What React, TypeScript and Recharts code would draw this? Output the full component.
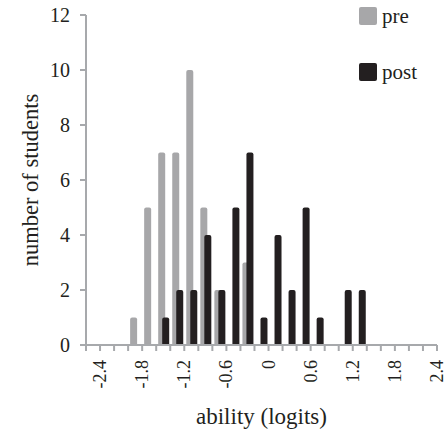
import { Bar, BarChart, XAxis, YAxis, Legend, Label } from "recharts"

// bins are 0.2 logits wide, labelled by their centre
const binCenters = [
  -2.5, -2.3, -2.1, -1.9, -1.7, -1.5, -1.3, -1.1, -0.9, -0.7, -0.5, -0.3, -0.1,
  0.1, 0.3, 0.5, 0.7, 0.9, 1.1, 1.3, 1.5, 1.7, 1.9, 2.1, 2.3,
]
const preCounts = [0, 0, 0, 1, 5, 7, 7, 10, 5, 2, 0, 3, 0, 0, 0, 0, 0, 0, 0, 0, 0, 0, 0, 0, 0]
const postCounts = [0, 0, 0, 0, 0, 1, 2, 2, 4, 2, 5, 7, 1, 4, 2, 5, 1, 0, 2, 2, 0, 0, 0, 0, 0]

const xTicks = [
  -2.6, -2.4, -2.2, -2.0, -1.8, -1.6, -1.4, -1.2, -1.0, -0.8, -0.6, -0.4, -0.2,
  0, 0.2, 0.4, 0.6, 0.8, 1.0, 1.2, 1.4, 1.6, 1.8, 2.0, 2.2, 2.4,
]
const xLabels = ["-2.4", "-1.8", "-1.2", "-0.6", "0", "0.6", "1.2", "1.8", "2.4"]
const yTicks = [0, 2, 4, 6, 8, 10, 12]

const PRE = "#a7a7a9"
const POST = "#231f20"
const AXIS = "#a7a9ac"
const TEXT = "#231f20"
const FONT = "Liberation Serif, Tinos, Times New Roman, serif"

const data = binCenters.map((bin, i) => ({ bin, pre: preCounts[i], post: postCounts[i] }))

const series = [
  { key: "pre", color: PRE },
  { key: "post", color: POST },
]

function XTick(props: any) {
  const { x, y, payload } = props
  const label = String(payload.value)
  if (!xLabels.includes(label)) return null
  return (
    <text
      x={x}
      y={y}
      transform={`rotate(-90, ${x}, ${y})`}
      textAnchor="end"
      dominantBaseline="central"
      style={{ fontFamily: FONT }}
      fontSize={18}
      fill={TEXT}
    >
      {label}
    </text>
  )
}

function renderLegend() {
  return (
    <div style={{ fontFamily: FONT, fontSize: 21, color: TEXT }}>
      {series.map((s, i) => (
        <div
          key={s.key}
          style={{ display: "flex", alignItems: "center", height: 18, marginBottom: i === 0 ? 38 : 0 }}
        >
          <span
            style={{ width: 18, height: 18, background: s.color, borderRadius: 2, marginRight: 5, display: "inline-block" }}
          />
          <span>{s.key}</span>
        </div>
      ))}
    </div>
  )
}

export default function App() {
  return (
    <div style={{ width: 447, height: 433, background: "#fff", fontFamily: FONT }}>
      <style>{`body{margin:0}`}</style>
      <BarChart
        width={447}
        height={433}
        data={data}
        margin={{ top: 15, right: 10, bottom: 0, left: 0 }}
        barSize={7}
        barGap={-3}
        style={{ fontFamily: FONT }}
      >
        <XAxis
          dataKey="bin"
          type="number"
          domain={[-2.6, 2.4]}
          ticks={xTicks}
          interval={0}
          height={88}
          stroke={AXIS}
          strokeWidth={2}
          tickSize={6}
          tick={<XTick />}
          tickMargin={9}
        >
          <Label
            value="ability (logits)"
            position="insideBottom"
            offset={9}
            style={{ fontFamily: FONT, fontSize: 23, fill: TEXT }}
          />
        </XAxis>
        <YAxis
          domain={[0, 12]}
          ticks={yTicks}
          interval={0}
          width={86}
          stroke={AXIS}
          strokeWidth={2}
          tickSize={6}
          tickMargin={10}
          tick={{ fontFamily: FONT, fontSize: 20, fill: TEXT }}
        >
          <Label
            content={({ viewBox }: any) => {
              const cx = viewBox.x + 30
              const cy = viewBox.y + viewBox.height / 2
              return (
                <text
                  x={cx}
                  y={cy}
                  transform={`rotate(-90, ${cx}, ${cy})`}
                  textAnchor="middle"
                  dominantBaseline="central"
                  style={{ fontFamily: FONT }}
                  fontSize={22.5}
                  fill={TEXT}
                >
                  number of students
                </text>
              )
            }}
          />
        </YAxis>
        <Legend
          layout="vertical"
          align="center"
          verticalAlign="middle"
          content={renderLegend}
          wrapperStyle={{ top: 7, left: 359, width: 80 }}
        />
        <Bar dataKey="pre" fill={PRE} radius={[2, 2, 0, 0]} isAnimationActive={false} />
        <Bar dataKey="post" fill={POST} radius={[2, 2, 0, 0]} isAnimationActive={false} />
      </BarChart>
    </div>
  )
}
